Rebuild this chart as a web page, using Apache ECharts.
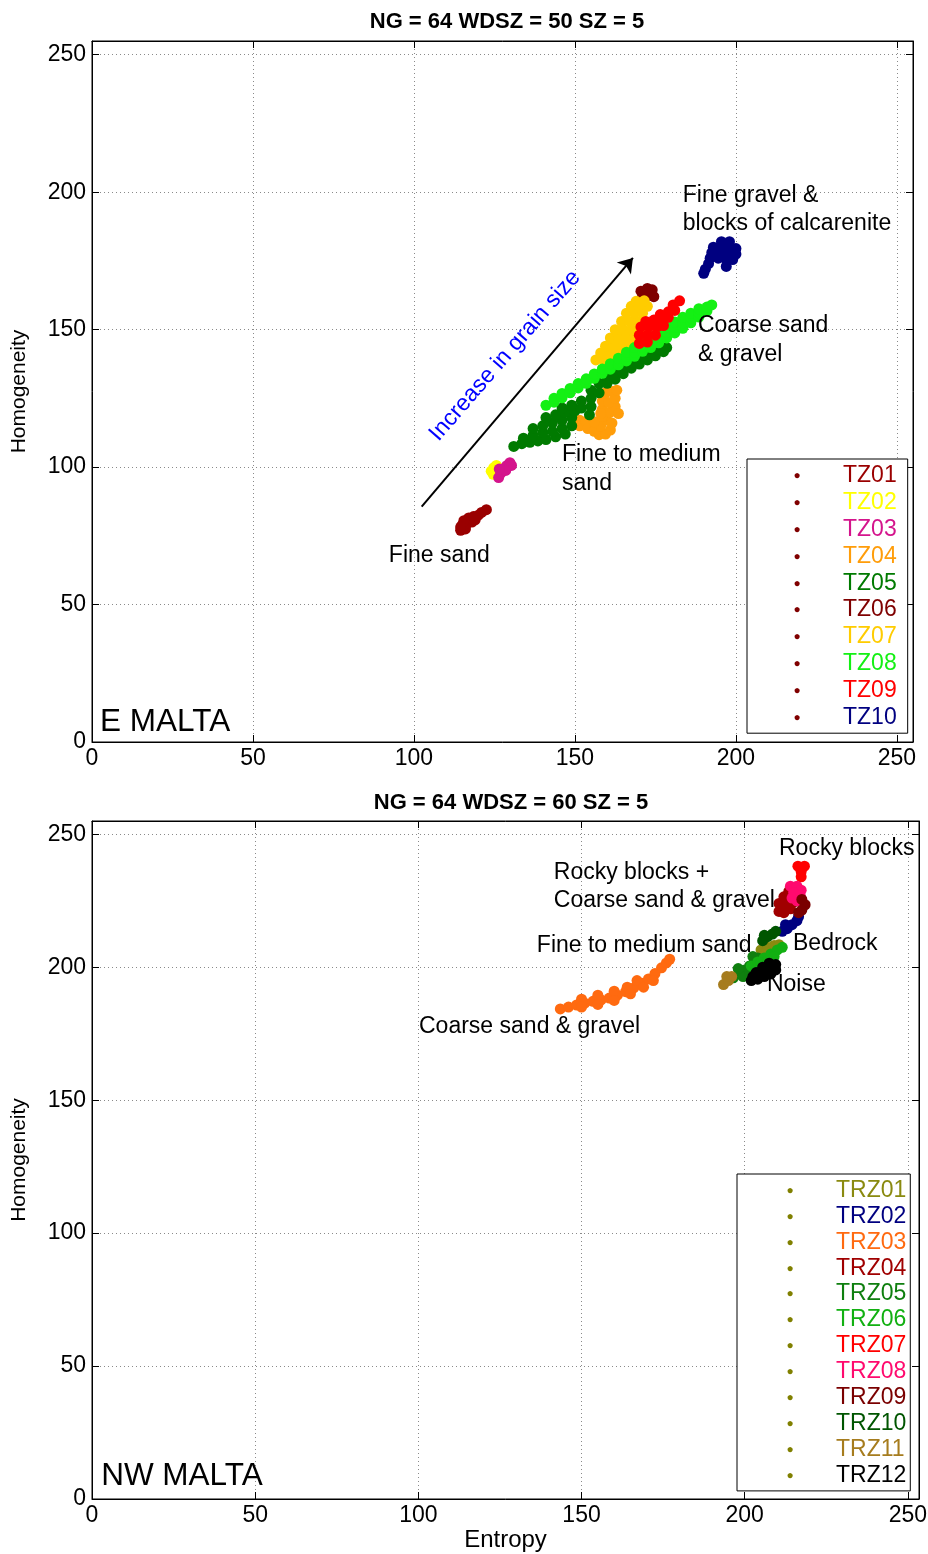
<!DOCTYPE html>
<html><head><meta charset="utf-8">
<script src="https://cdn.jsdelivr.net/npm/echarts@6/dist/echarts.min.js"></script>
<style>html,body{margin:0;padding:0;background:#fff}#c{width:928px;height:1554px}</style>
</head><body><div id="c"></div>
<script>
const FONT = "'Liberation Sans', Arial, Helvetica, sans-serif";

// ---------- Top panel (E MALTA) ----------
const topTitle = 'NG = 64 WDSZ = 50 SZ = 5';
const topNames = ['TZ01','TZ02','TZ03','TZ04','TZ05','TZ06','TZ07','TZ08','TZ09','TZ10'];
const topColors = ['#9A0000','#FFFF00','#D4148C','#FF9D0A','#007A00','#7F0000','#FFCC00','#14F014','#FF0000','#000080'];
const TZ01 = [[114.5,77],[116,77.5],[115,79],[116.5,79.5],[118,80],[117,81.5],[118.5,82],[120,82.5],[121,83.5],[122.5,84.5],[115.5,80.5],[119,80.8],[114.5,78.2]];
const TZ02 = [[124,98.5],[124.8,99.8],[125.6,100.6],[124.6,97.4],[125.8,97.8]];
const TZ03 = [[126.3,96.2],[127,97.8],[127.8,99.3],[128.8,100.5],[129.8,101.6],[130.3,100.6],[128.5,98.8],[126.5,99.3]];
const TZ04 = [[151.5,117],[151.5,115],[153.5,116.5],[154,114],[156,113],[157.5,111.8],[159.5,112],[161,113.5],[158,115],[156,116.5],[160,117],[158.5,118.5],[161.5,116],[158.5,121],[161,120],[162.5,122],[158.5,124],[160.5,123.5],[162.5,125],[159.5,127],[161.5,127.5],[163,128],[158,119.5],[163.5,119.5]];
const TZ05 = [[131,107.5],[133.5,108.5],[136,109],[138.5,109.5],[141,110],[144,111],[147,112],[134,110.5],[137,111.5],[140,112.5],[143,113],[146,114],[149,115],[137,114],[140,115],[143,116],[146,117],[149,118],[141,118],[144,119],[147,120],[150,120.5],[146,121.5],[149,122.5],[152,121.5],[152,124],[154.5,119],[155,122],[155,125],[155,128],[157.5,127],[157.5,130.5],[160,130.5],[160,132.5],[162.5,132],[162.5,134.5],[165,134],[165,136],[167.5,136],[167.5,138],[170,137.5],[170,139.5],[172.5,139],[172.5,141.3],[175,140.5],[175,142.7],[177.5,142],[178.5,143.5]];
const TZ06 = [[170.5,164],[172.5,165],[174,164.5],[171,162],[173,162.5],[174.5,162]];
const TZ07 = [[156.5,139],[159,139],[161.5,139.5],[158,141.5],[160.5,141.5],[163,141.5],[159.5,144],[162,144],[164.5,144],[167,144],[161,147],[163.5,147],[166,147],[168.5,147],[162.5,150],[165,150],[167.5,150],[170,150],[164.5,153],[167,153],[169.5,153],[166,156],[168.5,156],[171,156],[167.5,158.5],[170,158.5],[172.5,158.5],[169,160.3],[171.5,160.5]];
const TZ08 = [[141,122.5],[143.5,123.6],[143.5,125],[146,125.2],[146,126.8],[148.5,127],[148.5,128.6],[151,128.8],[151,130.4],[153.5,130.5],[153.5,132.1],[156,132.3],[156,133.9],[158.5,134.1],[158.5,135.7],[161,135.6],[161,137.6],[163.5,137.2],[163.5,139.6],[166,138.6],[166,140.2],[166,141.8],[168.5,140.3],[168.5,141.9],[168.5,143.5],[171,142.1],[171,143.7],[171,145.3],[173.5,143.5],[173.5,145.5],[173.5,147.5],[176,145.2],[176,147.2],[176,149.2],[178.5,147],[178.5,149],[178.5,151],[181,148.8],[181,150.8],[181,152.8],[183.5,150.5],[183.5,152.5],[183.5,154.5],[186,152.5],[186,154.3],[186,156],[188.5,154.6],[188.5,156.1],[188.5,157.6],[191,156.8],[191,158.2],[192.5,159]];
const TZ09 = [[170,145],[172.5,145.5],[170,148],[172.5,148],[175,148],[170.5,151],[173,151],[175.5,151],[177.5,151.5],[172,153],[174.5,153.5],[177,154],[179,154.5],[176.5,155.5],[179,156.5],[181,157],[180.5,159],[182.5,160.5]];
const TZ10 = [[195.5,182],[198,182],[193,180],[195.5,180],[198,180],[200,179.5],[192.5,178],[195,178],[197.5,177.5],[200,177.5],[192,176],[194.5,176],[197,175.5],[199,175.5],[197,173],[191.5,174],[190.5,172],[190,170.5]];
const topData = [TZ01,TZ02,TZ03,TZ04,TZ05,TZ06,TZ07,TZ08,TZ09,TZ10];
const topNotes = ['Fine gravel &\nblocks of calcarenite','Coarse sand\n& gravel','Fine to medium\nsand','Fine sand'];
const topNoteAt = [[183.5,193.6],[188.2,146.1],[146,99.2],[92.2,67.7]];
const topRegion = 'E MALTA';
const topRegionAt = [2.5,7.3];
const arrowText = 'Increase in grain size';
const arrowTextAt = [128.3,140.5];
const arrowFrom = [102.4,85.6];
const arrowTo = [168,176.1];

// ---------- Bottom panel (NW MALTA) ----------
const botTitle = 'NG = 64 WDSZ = 60 SZ = 5';
const botNames = ['TRZ01','TRZ02','TRZ03','TRZ04','TRZ05','TRZ06','TRZ07','TRZ08','TRZ09','TRZ10','TRZ11','TRZ12'];
const botColors = ['#8A8A10','#000080','#FF6A10','#A00000','#0F7F0F','#12B012','#FF0000','#FF0A6E','#7A0000','#005500','#A67C1E','#000000'];
const TRZ01 = [[205,206.5],[207,207.5],[209,208.2],[210.5,208.5],[206.5,205.5]];
const TRZ02 = [[211.5,213.5],[213,214.5],[214.5,216],[216,217.5],[216.5,219],[212.5,216]];
const TRZ03 = [[143.5,184.3],[146,185],[148.5,185.8],[151,186.5],[153.5,187.2],[156,187.7],[158.5,188.4],[161,189.5],[163.5,190.8],[166,192.2],[168.5,194],[170.5,195.6],[172.5,197.6],[174.5,199.8],[176,201.6],[177,203],[150,188],[155,189.5],[160,191],[164,192.5],[167,195],[150,185],[155,186],[160,187.5],[165,190],[169,192.5],[172,195]];
const TRZ04 = [[210.5,221],[210.5,224],[212,226.5],[213.5,228.5],[212.5,224],[214,222],[212,220.5],[215,224.5],[215.5,227]];
const TRZ05 = [[196.5,196],[198.5,197.5],[200,199],[201.5,200.5],[203,202],[204,203.5],[199.5,196.5],[201.5,198],[198,199.5],[202.5,204]];
const TRZ06 = [[202,200.5],[204,202],[206,203.5],[208,205],[210,206.5],[211.5,207.5],[205,201.5],[207,202.5],[209,204]];
const TRZ07 = [[216.3,238],[218.3,238],[217.3,236],[217.3,234]];
const TRZ08 = [[214,230.5],[216,230.5],[217.3,229],[215,228],[217,227],[216,225],[214.5,226]];
const TRZ09 = [[217.5,225.5],[218.5,223.5],[217.5,221.5],[216.5,220.5]];
const TRZ10 = [[205.5,210],[207,211.5],[208.5,212.5],[209.5,213.5],[206,212]];
const TRZ11 = [[193.5,193.5],[195,195],[196,196.5],[194.5,196.5]];
const TRZ12 = [[202,195],[204,195.5],[206,196.5],[208,197.5],[209.5,199],[209.5,201],[207.5,201.5],[205.5,200],[203.5,198],[202.5,196.5],[206,198.5],[208,199.5]];
const botData = [TRZ01,TRZ02,TRZ03,TRZ04,TRZ05,TRZ06,TRZ07,TRZ08,TRZ09,TRZ10,TRZ11,TRZ12];
const botNotes = ['Rocky blocks','Rocky blocks +\nCoarse sand & gravel','Fine to medium sand','Bedrock','Noise','Coarse sand & gravel'];
const botNoteAt = [[210.5,244.7],[141.5,230.3],[136.3,208.3],[214.8,209],[206.8,193.6],[100.2,177.8]];
const botRegion = 'NW MALTA';
const botRegionAt = [2.8,8.6];

// ---------- axis ticks ----------
const tickStep = 50;
const topXMax = 255, topYMax = 255, botXMax = 253.4, botYMax = 255;

const chart = echarts.init(document.getElementById('c'), null, {renderer:'canvas'});

function mainX(grid, max, extra) {
  return Object.assign({
    gridIndex: grid, type: 'value', min: 0, max: max, interval: tickStep, position: 'bottom',
    axisLine: {show: true, onZero: false, lineStyle: {color: '#000', width: 1}},
    axisTick: {show: true, inside: true, length: 7, lineStyle: {color: '#000'}},
    axisLabel: {show: true, fontSize: 23, color: '#000', fontFamily: FONT, margin: 5, showMaxLabel: false},
    splitLine: {show: true, lineStyle: {color: '#8a8a8a', type: [1, 3], width: 1}}
  }, extra || {});
}
function sideX(grid, max) {
  return {gridIndex: grid, type: 'value', min: 0, max: max, interval: tickStep, position: 'top',
    axisLine: {show: true, onZero: false, lineStyle: {color: '#000'}},
    axisTick: {show: true, inside: true, length: 7, lineStyle: {color: '#000'}},
    axisLabel: {show: false}, splitLine: {show: false}};
}
function mainY(grid, max) {
  return {gridIndex: grid, type: 'value', min: 0, max: max, interval: tickStep, position: 'left',
    name: 'Homogeneity', nameLocation: 'middle', nameGap: 62,
    nameTextStyle: {fontSize: 21, color: '#000', fontFamily: FONT},
    axisLine: {show: true, onZero: false, lineStyle: {color: '#000', width: 1}},
    axisTick: {show: true, inside: true, length: 7, lineStyle: {color: '#000'}},
    axisLabel: {show: true, fontSize: 23, color: '#000', fontFamily: FONT, margin: 6, showMaxLabel: false},
    splitLine: {show: true, lineStyle: {color: '#8a8a8a', type: [1, 3], width: 1}}};
}
function sideY(grid, max) {
  return {gridIndex: grid, type: 'value', min: 0, max: max, interval: tickStep, position: 'right',
    axisLine: {show: true, onZero: false, lineStyle: {color: '#000'}},
    axisTick: {show: true, inside: true, length: 7, lineStyle: {color: '#000'}},
    axisLabel: {show: false}, splitLine: {show: false}};
}

function clusterSeries(names, colors, data, axisIdx) {
  return names.map((n, i) => ({
    type: 'scatter', name: n, xAxisIndex: axisIdx, yAxisIndex: axisIdx,
    data: data[i], symbol: 'circle', symbolSize: 11,
    itemStyle: {color: colors[i], opacity: 1},
    silent: true, animation: false, emphasis: {disabled: true}
  }));
}

const noteLabel = {color: '#000', fontSize: 23, lineHeight: 28.5, fontFamily: FONT, opacity: 1};

function noteSeries(name, axisIdx, notes, at, region, regionAt, extraItems, markLine) {
  const items = notes.map((t, i) => ({value: at[i], label: Object.assign({formatter: t}, noteLabel)}));
  items.push({value: regionAt, label: Object.assign({}, noteLabel, {formatter: region, fontSize: 31.5, lineHeight: 32})});
  extraItems.forEach(e => items.push(e));
  const s = {
    type: 'scatter', name: name, xAxisIndex: axisIdx, yAxisIndex: axisIdx,
    data: items, symbolSize: 0, silent: true, animation: false, z: 5,
    itemStyle: {opacity: 1},
    emphasis: {disabled: true},
    label: Object.assign({show: true, position: 'right', distance: 0}, noteLabel)
  };
  if (markLine) s.markLine = markLine;
  return s;
}

function legendFor(names, colors, iconColor, left, top, gap, pad) {
  const rich = {
    a: {width: 31, lineHeight: 23, fontSize: 23},
    d: {width: 8, align: 'center', fontSize: 12, lineHeight: 23, color: iconColor, fontFamily: FONT},
    b: {width: 42, lineHeight: 23, fontSize: 23}
  };
  colors.forEach((c, i) => { rich['c' + i] = {color: c, fontSize: 23, lineHeight: 23, fontFamily: FONT}; });
  return {
    orient: 'vertical', left: left, top: top, itemWidth: 1, itemHeight: 1, itemGap: gap,
    padding: pad, borderColor: '#000', borderWidth: 1, backgroundColor: '#fff',
    selectedMode: false, align: 'left', icon: 'rect',
    itemStyle: {color: 'rgba(0,0,0,0)', borderWidth: 0},
    textStyle: {fontSize: 23, lineHeight: 23, fontFamily: FONT, rich: rich},
    formatter: function (n) { const i = names.indexOf(n); return '{a| }{d|●}{b| }{c' + i + '|' + n + '}'; },
    data: names.slice()
  };
}

const option = {
  backgroundColor: '#fff',
  animation: false,
  title: [
    {text: topTitle, left: 502, top: 6, textAlign: 'center',
      textStyle: {fontSize: 22, fontWeight: 'bold', color: '#000', fontFamily: FONT}},
    {text: botTitle, left: 506, top: 787, textAlign: 'center',
      textStyle: {fontSize: 22, fontWeight: 'bold', color: '#000', fontFamily: FONT}}
  ],
  grid: [
    {left: 92, top: 41, width: 821, height: 701, show: true, borderColor: '#000', borderWidth: 1, backgroundColor: '#fff', outerBoundsMode: 'none', containLabel: false},
    {left: 92, top: 821, width: 827, height: 678, show: true, borderColor: '#000', borderWidth: 1, backgroundColor: '#fff', outerBoundsMode: 'none', containLabel: false}
  ],
  xAxis: [
    mainX(0, topXMax),
    mainX(1, botXMax, {name: 'Entropy', nameLocation: 'middle', nameGap: 29,
      nameTextStyle: {fontSize: 24, color: '#000', fontFamily: FONT}}),
    sideX(0, topXMax), sideX(1, botXMax)
  ],
  yAxis: [mainY(0, topYMax), mainY(1, botYMax), sideY(0, topYMax), sideY(1, botYMax)],
  legend: [
    legendFor(topNames, topColors, '#800000', 747, 459, 3.8, [5.5, 11, 4.5, 9]),
    legendFor(botNames, botColors, '#808000', 737, 1174, 2.9, [5, 4, 4, 12])
  ],
  series: [].concat(
    clusterSeries(topNames, topColors, topData, 0),
    clusterSeries(botNames, botColors, botData, 1),
    [noteSeries('topNotes', 0, topNotes, topNoteAt, topRegion, topRegionAt,
      [{value: arrowTextAt, label: Object.assign({}, noteLabel, {formatter: arrowText, position: 'inside', rotate: 49, color: '#0000FF'})}],
      {silent: true, symbol: ['none', 'arrow'], symbolSize: 14, animation: false,
        label: {show: false}, emphasis: {disabled: true},
        lineStyle: {color: '#000', width: 2, type: 'solid'},
        itemStyle: {color: '#000'},
        data: [[{coord: arrowFrom}, {coord: arrowTo}]]}),
     noteSeries('botNotes', 1, botNotes, botNoteAt, botRegion, botRegionAt, [], null)]
  )
};
chart.setOption(option);
</script>
</body></html>
